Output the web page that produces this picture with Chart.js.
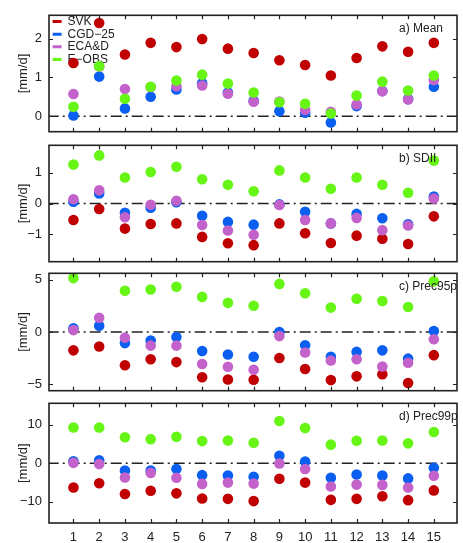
<!DOCTYPE html>
<html>
<head>
<meta charset="utf-8">
<script src="https://cdn.jsdelivr.net/npm/chart.js@4.4.1/dist/chart.umd.min.js"></script>
<style>
  body { margin: 0; background: #fff; }
  #wrap { position: relative; width: 463px; height: 543px; }
  .panel { position: absolute; left: 0; width: 463px; }
</style>
</head>
<body>
<div id="wrap">
  <div class="panel" style="top:10px;height:127px"><canvas id="meanChart"></canvas></div>
  <div class="panel" style="top:140px;height:127px"><canvas id="sdiiChart"></canvas></div>
  <div class="panel" style="top:268px;height:128px"><canvas id="p95Chart"></canvas></div>
  <div class="panel" style="top:398px;height:145px"><canvas id="p99Chart"></canvas></div>
</div>
<script>
// mesiace / stanice na osi x
const months = [1, 2, 3, 4, 5, 6, 7, 8, 9, 10, 11, 12, 13, 14, 15];
const seriesNames = ['SVK', 'CGD−25', 'ECA&D', 'E−OBS'];
const seriesColors = ['#c00000', '#0a5ff0', '#c462cc', '#66f514'];

// a) Mean
const meanSVK  = [1.37, 2.40, 1.59, 1.89, 1.78, 1.99, 1.74, 1.63, 1.44, 1.32, 1.05, 1.50, 1.80, 1.66, 1.89];
const meanCGD  = [0.02, 1.02, 0.20, 0.50, 0.69, 0.85, 0.61, 0.40, 0.13, 0.09, -0.16, 0.26, 0.65, 0.44, 0.76];
const meanECA  = [0.57, 1.28, 0.70, 0.75, 0.77, 0.79, 0.58, 0.37, 0.38, 0.16, 0.11, 0.30, 0.64, 0.43, 0.93];
const meanEOBS = [0.24, 1.29, 0.45, 0.76, 0.92, 1.07, 0.84, 0.61, 0.36, 0.32, 0.07, 0.53, 0.89, 0.66, 1.05];
const meanTicks = [0, 1, 2];

// b) SDII
const sdiiSVK  = [-0.54, -0.18, -0.82, -0.67, -0.65, -1.09, -1.30, -1.36, -0.65, -0.97, -1.29, -1.05, -1.15, -1.32, -0.42];
const sdiiCGD  = [0.06, 0.33, -0.30, -0.14, 0.04, -0.40, -0.60, -0.69, -0.03, -0.27, -0.65, -0.34, -0.48, -0.68, 0.23];
const sdiiECA  = [0.14, 0.43, -0.45, -0.04, 0.09, -0.70, -0.88, -1.02, -0.05, -0.54, -0.65, -0.47, -0.87, -0.72, 0.16];
const sdiiEOBS = [1.27, 1.57, 0.85, 1.03, 1.20, 0.79, 0.61, 0.40, 1.08, 0.85, 0.48, 0.85, 0.61, 0.35, 1.40];
const sdiiTicks = [-1, 0, 1];

// c) Prec95p
const p95SVK  = [-1.75, -1.39, -3.17, -2.60, -2.87, -4.32, -4.53, -4.56, -2.48, -3.53, -4.59, -4.23, -4.02, -4.86, -2.21];
const p95CGD  = [0.36, 0.60, -1.06, -0.82, -0.48, -1.81, -2.14, -2.36, 0.00, -1.27, -2.36, -1.90, -1.75, -2.54, 0.09];
const p95ECA  = [0.18, 1.36, -0.54, -1.30, -1.30, -3.05, -3.32, -3.60, -0.39, -1.96, -2.72, -2.60, -3.29, -2.93, -0.69];
const p95EOBS = [5.14, 6.30, 3.93, 4.05, 4.32, 3.35, 2.78, 2.51, 4.59, 3.69, 2.33, 3.17, 2.96, 2.39, 4.83];
const p95Ticks = [-5, 0, 5];

// d) Prec99p
const p99SVK  = [-6.30, -5.21, -7.98, -7.14, -7.82, -9.16, -9.24, -9.83, -4.03, -5.04, -9.50, -9.24, -8.57, -9.58, -7.06];
const p99CGD  = [0.50, 0.76, -1.93, -1.93, -1.51, -3.11, -3.19, -3.53, 1.93, 0.42, -3.78, -2.94, -3.19, -3.95, -1.18];
const p99ECA  = [0.08, -0.25, -3.70, -2.52, -3.78, -5.38, -5.04, -5.29, -0.08, -1.51, -6.05, -5.55, -5.63, -6.30, -3.28];
const p99EOBS = [9.24, 9.24, 6.72, 6.22, 6.81, 5.71, 5.88, 5.29, 10.92, 9.08, 4.79, 5.80, 5.88, 5.13, 8.07];
const p99Ticks = [-10, 0, 10];

const FONT = 'Liberation Sans, Arial, Helvetica, sans-serif';

// ram okolo grafu + kratke ciarky dovnutra + nazov panelu
function frameAndLabel(text) {
  return {
    id: 'frameAndLabel',
    afterLayout(chart) {
      // legendu trochu posunut od ramu
      if (chart.legend && chart.options.plugins.legend.display) {
        chart.legend.left += 3;
        chart.legend.top += 5;
      }
    },
    afterDatasetsDraw(chart) {
      const ctx = chart.ctx;
      const a = chart.chartArea;
      const xs = chart.scales.x, ys = chart.scales.y;
      ctx.save();
      ctx.strokeStyle = '#222';
      ctx.lineWidth = 1.2;
      ctx.beginPath();
      xs.ticks.forEach(t => {
        const px = Math.round(xs.getPixelForValue(t.value)) + 0.5;
        ctx.moveTo(px, a.top); ctx.lineTo(px, a.top + 4);
        ctx.moveTo(px, a.bottom); ctx.lineTo(px, a.bottom - 4);
      });
      ys.ticks.forEach(t => {
        const py = Math.round(ys.getPixelForValue(t.value)) + 0.5;
        ctx.moveTo(a.left, py); ctx.lineTo(a.left + 4, py);
        ctx.moveTo(a.right, py); ctx.lineTo(a.right - 4, py);
      });
      ctx.stroke();
      ctx.lineWidth = 1.6;
      ctx.strokeRect(a.left, a.top, a.right - a.left, a.bottom - a.top);
      ctx.fillStyle = '#222';
      ctx.font = '12px ' + FONT;
      ctx.textAlign = 'left';
      ctx.textBaseline = 'middle';
      ctx.fillText(text, 399, a.top + 13.5);
      ctx.restore();
    }
  };
}

function makePanel(id, values, yTicks, yMin, yMax, label, opts) {
  const datasets = values.map((vals, i) => ({
    label: seriesNames[i],
    data: months.map((m, j) => ({ x: m, y: vals[j] })),
    backgroundColor: seriesColors[i],
    borderColor: seriesColors[i],
    pointRadius: 5.3,
    pointHoverRadius: 5.3,
    pointBorderWidth: 0,
    showLine: false,
    order: 3 - i
  }));
  // nulova ciara (ciarka-bodka)
  datasets.push({
    label: 'zero',
    type: 'line',
    data: [{ x: 0, y: 0 }, { x: 16, y: 0 }],
    borderColor: '#222',
    borderWidth: 1.5,
    borderDash: [11, 4, 2, 4],
    pointRadius: 0,
    order: 10
  });

  return new Chart(document.getElementById(id), {
    type: 'scatter',
    data: { datasets },
    options: {
      responsive: true,
      maintainAspectRatio: false,
      animation: false,
      layout: { padding: { top: 2, right: 6, bottom: opts.bottomAxis ? 0 : 2, left: 0 } },
      plugins: {
        tooltip: { enabled: false },
        legend: opts.legend ? {
          display: true,
          position: 'chartArea',
          align: 'start',
          labels: {
            font: { family: FONT, size: 12 },
            color: '#222',
            usePointStyle: true,
            pointStyle: 'line',
            pointStyleWidth: 9,
            boxHeight: 10,
            padding: 0.6,
            generateLabels: chart =>
              Chart.defaults.plugins.legend.labels.generateLabels(chart)
                .filter(l => l.datasetIndex < 4)
                .sort((p, q) => p.datasetIndex - q.datasetIndex)
                .map(l => ({ ...l, lineWidth: 3, strokeStyle: seriesColors[l.datasetIndex] }))
          }
        } : { display: false }
      },
      scales: {
        x: {
          type: 'linear',
          min: 0.05,
          max: 15.9,
          display: opts.bottomAxis ? true : false,
          afterBuildTicks: s => { s.ticks = months.map(v => ({ value: v })); },
          afterFit: s => {
            s.height = opts.bottomAxis ? 20 : 0;
            s.paddingLeft = 0; s.paddingRight = 0;
          },
          grid: { display: false, drawTicks: false },
          border: { display: false },
          ticks: { color: '#222', font: { family: FONT, size: 13 }, padding: 7, maxRotation: 0 }
        },
        y: {
          min: yMin,
          max: yMax,
          afterBuildTicks: s => { s.ticks = yTicks.map(v => ({ value: v })); },
          afterFit: s => {
            s.width = 49;
            s.paddingTop = 0; s.paddingBottom = 0;
          },
          grid: { display: false, drawTicks: false },
          border: { display: false },
          ticks: {
            color: '#222',
            font: { family: FONT, size: 13 },
            padding: 7,
            callback: v => (v < 0 ? '−' + Math.abs(v) : String(v))
          },
          title: {
            display: true,
            text: '[mm/d]',
            color: '#222',
            font: { family: FONT, size: 13 },
            padding: { top: 16, bottom: 0 }
          }
        }
      }
    },
    plugins: [frameAndLabel(label)]
  });
}

makePanel('meanChart', [meanSVK, meanCGD, meanECA, meanEOBS], meanTicks, -0.4, 2.6, 'a) Mean', { legend: true });
makePanel('sdiiChart', [sdiiSVK, sdiiCGD, sdiiECA, sdiiEOBS], sdiiTicks, -1.9, 1.9, 'b) SDII', {});
makePanel('p95Chart', [p95SVK, p95CGD, p95ECA, p95EOBS], p95Ticks, -5.6, 5.6, 'c) Prec95p', {});
makePanel('p99Chart', [p99SVK, p99CGD, p99ECA, p99EOBS], p99Ticks, -15.5, 15.5, 'd) Prec99p', { bottomAxis: true });
</script>
</body>
</html>
